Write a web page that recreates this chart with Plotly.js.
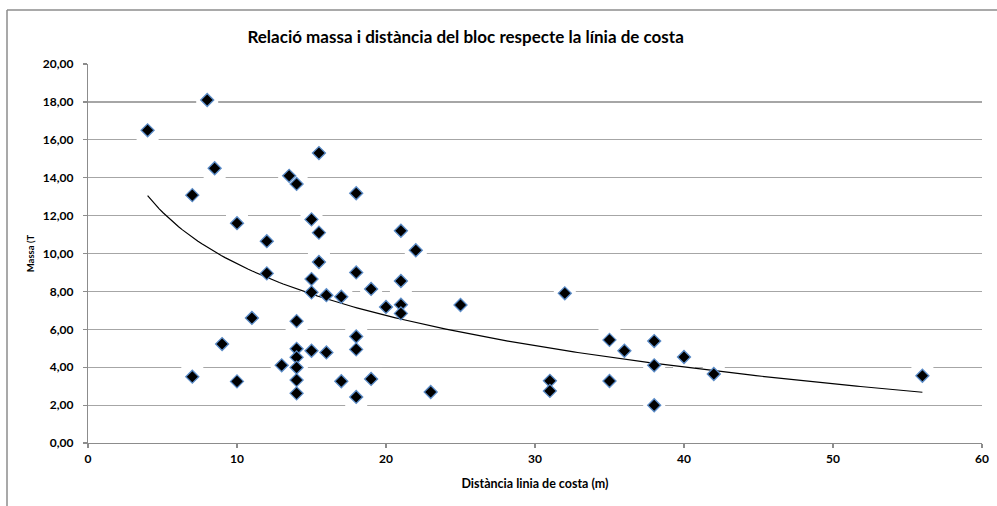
<!DOCTYPE html>
<html>
<head>
<meta charset="utf-8">
<script src="https://cdn.plot.ly/plotly-3.0.1.min.js"></script>
<style>html,body{margin:0;padding:0;background:#fff;}#chart{width:997px;height:506px;}</style>
</head>
<body>
<div id="chart"></div>
<script>
// Distància línia de costa (m)
const distancia = [4, 8, 15.5, 8.5, 13.5, 14, 18, 7, 10, 15, 15.5, 12, 15.5, 12, 15, 18, 19, 15, 16, 17,
  11, 14, 18, 9, 14, 15, 16, 18, 14, 13, 14, 7, 10, 14, 17, 19, 14, 18,
  21, 22, 21, 20, 21, 21, 25, 23, 31, 31, 32, 35, 36, 38, 40, 38, 42, 35, 38, 56];
// Massa (T)
const massa = [16.5, 18.1, 15.3, 14.5, 14.1, 13.67, 13.18, 13.08, 11.6, 11.8, 11.1, 10.65, 9.55, 8.95, 8.65, 9.0, 8.13, 7.95, 7.8, 7.72,
  6.6, 6.43, 5.62, 5.22, 4.97, 4.87, 4.78, 4.94, 4.52, 4.1, 3.98, 3.5, 3.25, 3.32, 3.26, 3.38, 2.62, 2.43,
  11.2, 10.17, 8.55, 7.18, 7.3, 6.84, 7.28, 2.69, 3.28, 2.75, 7.9, 5.44, 4.87, 5.38, 4.54, 4.1, 3.64, 3.27, 1.99, 3.55];

const titleText = 'Relació massa i distància del bloc respecte la línia de costa';
const xTitle = 'Distància linia de costa (m)';
const yTitle = 'Massa (T';

// logarithmic trendline (least squares on ln x)
const lx = distancia.map(Math.log);
const n = lx.length;
const mx = lx.reduce((a,b)=>a+b,0)/n, my = massa.reduce((a,b)=>a+b,0)/n;
let sxy = 0, sxx = 0;
for (let i = 0; i < n; i++) { sxy += (lx[i]-mx)*(massa[i]-my); sxx += (lx[i]-mx)*(lx[i]-mx); }
const slope = sxy/sxx, icpt = my - slope*mx;
const xmin = Math.min(...distancia), xmax = Math.max(...distancia);
const tx = [], ty = [];
for (let i = 0; i <= 200; i++) { const x = xmin + (xmax-xmin)*i/200; tx.push(x); ty.push(icpt + slope*Math.log(x)); }

const FONT = 'Lato, "Open Sans", sans-serif';
const grid = '#a6a6a6';

const traces = [
  {x: distancia, y: massa, mode: 'markers', type: 'scatter', hoverinfo: 'skip',
   marker: {symbol: 'square', size: 22, color: '#ffffff', line: {width: 0}}, showlegend: false},
  {x: tx, y: ty, mode: 'lines', type: 'scatter', line: {color: '#000000', width: 1.2}, showlegend: false},
  {x: distancia, y: massa, mode: 'markers', type: 'scatter',
   marker: {symbol: 'diamond', size: 10, color: '#000000', line: {color: '#5b8cc8', width: 1.3}}, showlegend: false}
];

const layout = {
  width: 997, height: 506,
  margin: {l: 88, r: 15, t: 64, b: 63},
  paper_bgcolor: '#ffffff', plot_bgcolor: '#ffffff',
  separators: ',.',
  font: {family: FONT, color: '#000000'},
  title: {text: '<b>' + titleText + '</b>', font: {family: FONT, size: 17, color: '#000'},
          x: 0.467, xanchor: 'center', y: 0.927, yanchor: 'middle', xref: 'container', yref: 'container'},
  xaxis: {range: [0, 60], dtick: 10, tick0: 0, showgrid: false, zeroline: false,
          showline: true, linecolor: '#8c8c8c', linewidth: 1.2,
          ticks: 'outside', ticklen: 4, tickcolor: '#8c8c8c', tickwidth: 1.2,
          tickfont: {family: FONT, size: 12, color: '#000', weight: 'bold'},
          title: {text: '<b>' + xTitle + '</b>', font: {family: FONT, size: 12.5, color: '#000'}, standoff: 14}},
  yaxis: {range: [0, 20], dtick: 2, tick0: 0, tickformat: '.2f', showgrid: true, gridcolor: grid, gridwidth: 1.2,
          zeroline: false, showline: true, linecolor: '#8c8c8c', linewidth: 1.2,
          ticks: 'outside', ticklen: 4, tickcolor: '#8c8c8c', tickwidth: 1.2, ticklabelstandoff: 7,
          tickfont: {family: FONT, size: 12, color: '#000', weight: 'bold'},
          title: {text: '<b>' + yTitle + '</b>', font: {family: FONT, size: 9.5, color: '#000'}, standoff: 6}},
  shapes: [
    {type: 'line', xref: 'paper', yref: 'paper', x0: -0.0906, x1: 1.2, y0: 1.1425, y1: 1.1425, line: {color: '#8c8c8c', width: 1.5}},
    {type: 'line', xref: 'paper', yref: 'paper', x0: -0.0906, x1: -0.0906, y0: 1.1425, y1: -0.3, line: {color: '#8c8c8c', width: 1.5}}
  ]
};

Plotly.newPlot('chart', traces, layout, {displayModeBar: false, staticPlot: true});
</script>
</body>
</html>
